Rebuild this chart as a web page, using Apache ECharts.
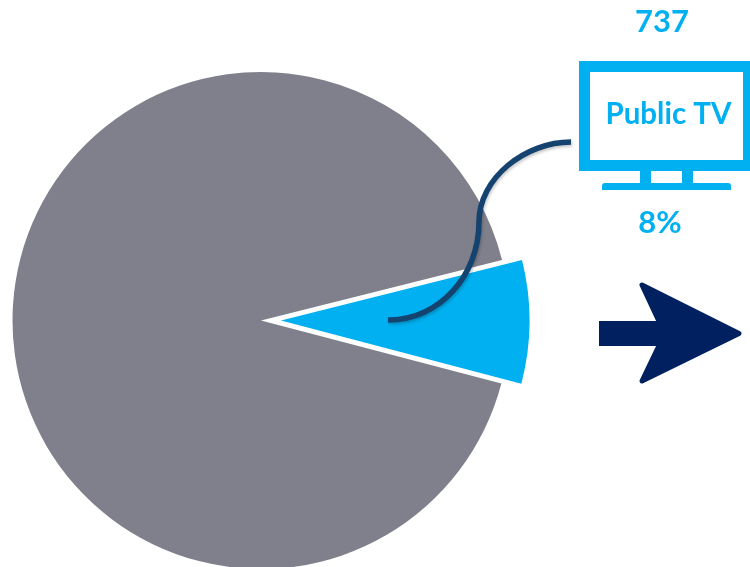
<!DOCTYPE html>
<html>
<head>
<meta charset="utf-8">
<style>html,body{margin:0;padding:0;background:#fff}#chart{width:750px;height:567px}</style>
<script src="https://cdn.jsdelivr.net/npm/echarts@6/dist/echarts.min.js"></script>
</head>
<body>
<div id="chart"></div>
<script>
// Share of audience, in percent
const sliceNames = ['Public TV', 'Other'];
const sliceShares = [8, 92];
const publicTvCount = '737';
const publicTvShare = '8%';

const BLUE = '#00b0f0';
const GREY = '#7f808c';
const NAVY = '#002060';
const LEADER = '#14436f';
const FONT = 'Lato, sans-serif';

const rect = (x, y, width, height, fill, r) => ({
  type: 'rect', shape: { x, y, width, height, r: r || 0 }, style: { fill }, silent: true
});
const text = (str, x, y, fontSize) => ({
  type: 'text', x, y, silent: true,
  style: { text: str, fill: BLUE, font: 'bold ' + fontSize + 'px ' + FONT, textAlign: 'center', textVerticalAlign: 'middle' }
});
const leaderStyle = {
  stroke: LEADER, lineWidth: 5.5, fill: 'none',
  shadowColor: 'rgba(0,0,0,0.22)', shadowBlur: 3, shadowOffsetX: 1, shadowOffsetY: 2
};

const chart = echarts.init(document.getElementById('chart'), null, { renderer: 'canvas' });
chart.setOption({
  animation: false,
  backgroundColor: '#fff',
  series: [{
    type: 'pie',
    center: [261, 320.5],
    radius: [0, 248.5],
    startAngle: 14.1,
    clockwise: true,
    silent: true,
    selectedMode: 'multiple',
    selectedOffset: 20,
    label: { show: false },
    labelLine: { show: false },
    data: sliceNames.map((name, i) => ({
      name,
      value: sliceShares[i],
      selected: i === 0,
      itemStyle: { color: i === 0 ? BLUE : GREY, borderWidth: 0 }
    }))
  }],
  graphic: { elements: [
    // Television icon
    rect(579, 61, 171, 11, BLUE),
    rect(579, 160, 171, 11, BLUE),
    rect(579, 61, 11, 110, BLUE),
    rect(743, 61, 7, 110, BLUE),
    rect(640, 171, 11, 12, BLUE),
    rect(682, 171, 11, 12, BLUE),
    rect(602, 183, 129, 7, BLUE, [3, 3, 0, 0]),
    text('Public TV', 668.5, 114.5, 29.5),
    text(publicTvCount, 662, 21.5, 31),
    text(publicTvShare, 660, 223, 31),
    // Leader from the slice to the icon
    { type: 'bezierCurve', silent: true, z: 5, style: leaderStyle,
      shape: { x1: 571, y1: 142, cpx1: 525, cpy1: 142, cpx2: 479, cpy2: 178, x2: 479, y2: 222 } },
    { type: 'bezierCurve', silent: true, z: 5, style: leaderStyle,
      shape: { x1: 479, y1: 222, cpx1: 479, cpy1: 275, cpx2: 440, cpy2: 320, x2: 388, y2: 320 } },
    // Arrow
    { type: 'polygon', silent: true,
      shape: { points: [[620, 323.5], [660, 323.5], [642, 285], [739, 333.5], [642, 381], [660, 343.5], [620, 343.5]] },
      style: { fill: NAVY, stroke: NAVY, lineWidth: 5, lineJoin: 'round' } },
    rect(599, 321, 30, 25, NAVY)
  ] }
});
</script>
</body>
</html>
